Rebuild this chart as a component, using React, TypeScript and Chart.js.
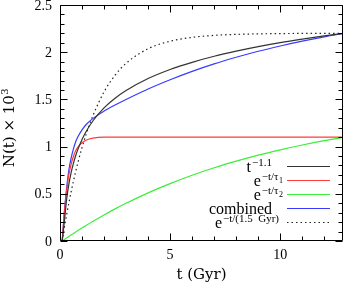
import React, { useEffect, useRef } from "react";
import { Chart, registerables } from "chart.js";

Chart.register(...registerables);

// time samples (Gyr)
const T = [0.1, 0.2, 0.3, 0.4, 0.5, 0.6, 0.7, 0.8, 1.0, 1.2, 1.5, 2, 2.5, 3, 4, 5, 6, 7, 8, 9, 10, 11, 12, 12.9];

// N(t) x 10^3 for each model
const powerLaw = [0, 0.21, 0.44, 0.6, 0.72, 0.815, 0.895, 0.963, 1.076, 1.166, 1.274, 1.41, 1.512, 1.594, 1.721, 1.817, 1.893, 1.957, 2.011, 2.059, 2.101, 2.138, 2.172, 2.2];
const expTau1 = [0, 0.3, 0.53, 0.7, 0.81, 0.89, 0.95, 0.99, 1.04, 1.07, 1.09, 1.1, 1.1, 1.1, 1.1, 1.1, 1.1, 1.1, 1.1, 1.1, 1.1, 1.1, 1.1, 1.1];
const expTau2 = [0, 0.016, 0.032, 0.048, 0.063, 0.078, 0.093, 0.108, 0.138, 0.167, 0.209, 0.276, 0.34, 0.399, 0.51, 0.608, 0.697, 0.776, 0.846, 0.91, 0.966, 1.017, 1.063, 1.1];
const combined = [0, 0.316, 0.562, 0.748, 0.873, 0.968, 1.043, 1.098, 1.178, 1.237, 1.299, 1.376, 1.44, 1.499, 1.61, 1.708, 1.797, 1.876, 1.946, 2.01, 2.066, 2.117, 2.163, 2.2];
const exp15 = [0, 0.143, 0.276, 0.4, 0.516, 0.624, 0.725, 0.819, 0.99, 1.14, 1.33, 1.58, 1.756, 1.882, 2.037, 2.116, 2.157, 2.178, 2.189, 2.194, 2.197, 2.199, 2.2, 2.2];

// axes
const X_MIN = 0;
const X_MAX = 12.85;
const Y_MIN = 0;
const Y_MAX = 2.5;
const X_MAJOR = [0, 5, 10];
const X_LABELS = ["0", "5", "10"];
const X_MINOR = [1, 2, 3, 4, 6, 7, 8, 9, 11, 12];
const Y_MAJOR = [0, 0.5, 1, 1.5, 2, 2.5];
const Y_LABELS = ["0", "0.5", "1", "1.5", "2", "2.5"];
const Y_MINOR = [0.1, 0.2, 0.3, 0.4, 0.6, 0.7, 0.8, 0.9, 1.1, 1.2, 1.3, 1.4, 1.6, 1.7, 1.8, 1.9, 2.1, 2.2, 2.3, 2.4];

// legend labels: base text, superscript, sub-subscript
const LEGEND_BASE = ["t", "e", "e", "combined", "e"];
const LEGEND_SUP = ["\u22121.1", "\u2212t/\u03c4", "\u2212t/\u03c4", "", "\u2212t/(1.5  Gyr)"];
const LEGEND_SUB = ["", "1", "2", "", ""];

const X_TITLE = "t (Gyr)";
const Y_TITLE = "N(t) \u00d7 10";
const Y_TITLE_SUP = "3";

const SERIF = "'Liberation Serif', 'Times New Roman', serif";
const SERIF2 = "'DejaVu Serif', serif";

const framePlugin = {
  id: "framePlugin",
  afterDraw(chart: any) {
    const { ctx, chartArea: a } = chart;
    const xs = chart.scales.x;
    const ys = chart.scales.y;
    ctx.save();
    ctx.strokeStyle = "#000";
    ctx.lineWidth = 1;
    const L = Math.round(a.left) + 0.5;
    const R = Math.round(a.right) - 0.5;
    const TP = Math.round(a.top) + 0.5;
    const B = Math.round(a.bottom) - 0.5;
    ctx.beginPath();
    ctx.rect(L, TP, R - L, B - TP);
    ctx.stroke();

    const MAJ = 7;
    const MIN = 4;
    ctx.beginPath();
    const xt = (v: number, len: number) => {
      const px = Math.round(xs.getPixelForValue(v)) + 0.5;
      ctx.moveTo(px, B);
      ctx.lineTo(px, B - len);
      ctx.moveTo(px, TP);
      ctx.lineTo(px, TP + len);
    };
    const yt = (v: number, len: number) => {
      const py = Math.round(ys.getPixelForValue(v)) + 0.5;
      ctx.moveTo(L, py);
      ctx.lineTo(L + len, py);
      ctx.moveTo(R, py);
      ctx.lineTo(R - len, py);
    };
    X_MAJOR.forEach((v) => xt(v, MAJ));
    X_MINOR.forEach((v) => xt(v, MIN));
    Y_MAJOR.forEach((v) => yt(v, MAJ));
    Y_MINOR.forEach((v) => yt(v, MIN));
    ctx.stroke();

    // tick labels
    ctx.fillStyle = "#000";
    ctx.font = `14px ${SERIF}`;
    ctx.textAlign = "right";
    ctx.textBaseline = "middle";
    Y_MAJOR.forEach((v, i) => {
      ctx.fillText(Y_LABELS[i], a.left - 8, ys.getPixelForValue(v) + 1);
    });
    ctx.textAlign = "center";
    ctx.textBaseline = "top";
    X_MAJOR.forEach((v, i) => {
      ctx.fillText(X_LABELS[i], xs.getPixelForValue(v), a.bottom + 7);
    });

    // axis titles
    ctx.font = `15px ${SERIF2}`;
    ctx.textBaseline = "alphabetic";
    ctx.textAlign = "center";
    ctx.fillText(X_TITLE, (a.left + a.right) / 2, 279);

    ctx.save();
    ctx.translate(14, 128);
    ctx.rotate(-Math.PI / 2);
    ctx.font = `15px ${SERIF2}`;
    const w1 = ctx.measureText(Y_TITLE).width;
    ctx.font = `10px ${SERIF2}`;
    const w2 = ctx.measureText(Y_TITLE_SUP).width;
    const start = -(w1 + w2) / 2;
    ctx.textAlign = "left";
    ctx.font = `15px ${SERIF2}`;
    ctx.fillText(Y_TITLE, start, 0);
    ctx.font = `10px ${SERIF2}`;
    ctx.fillText(Y_TITLE_SUP, start + w1 + 0.5, -6);
    ctx.restore();

    // legend
    const rightEdges = [272, 283, 283, 272, 279];
    const y0 = 165.5;
    const dy = 14.2;
    chart.data.datasets.forEach((ds: any, i: number) => {
      const ly = Math.round(y0 + i * dy) + 0.5;
      ctx.save();
      ctx.strokeStyle = ds.borderColor;
      ctx.lineWidth = ds.borderWidth;
      ctx.setLineDash(ds.borderDash || []);
      ctx.beginPath();
      ctx.moveTo(287, ly);
      ctx.lineTo(330, ly);
      ctx.stroke();
      ctx.restore();

      const base = LEGEND_BASE[i];
      const sup = LEGEND_SUP[i];
      const sub = LEGEND_SUB[i];
      ctx.font = `16px ${SERIF}`;
      const wb = ctx.measureText(base).width;
      ctx.font = `11px ${SERIF}`;
      const ws = sup ? ctx.measureText(sup).width : 0;
      ctx.font = `8px ${SERIF}`;
      const wsub = sub ? ctx.measureText(sub).width : 0;
      const total = wb + (sup ? ws + 1 : 0) + (sub ? wsub + 0.5 : 0);
      let x = rightEdges[i] - total;
      const by = ly + 5.5;
      ctx.textAlign = "left";
      ctx.textBaseline = "alphabetic";
      ctx.fillStyle = "#000";
      ctx.font = `16px ${SERIF}`;
      ctx.fillText(base, x, by);
      x += wb + 1;
      if (sup) {
        ctx.font = `11px ${SERIF}`;
        ctx.fillText(sup, x, by - 6);
        x += ws + 0.5;
      }
      if (sub) {
        ctx.font = `8px ${SERIF}`;
        ctx.fillText(sub, x, by - 3.5);
      }
    });
    ctx.restore();
  },
};

function pts(vals: number[]) {
  return T.map((t, i) => ({ x: t, y: vals[i] }));
}

export default function App() {
  const ref = useRef<HTMLCanvasElement | null>(null);
  useEffect(() => {
    if (!ref.current) return;
    const common = {
      pointRadius: 0,
      borderWidth: 1.2,
      fill: false,
      cubicInterpolationMode: "monotone" as const,
    };
    const chart = new Chart(ref.current, {
      type: "line",
      data: {
        datasets: [
          { ...common, label: "t^-1.1", data: pts(powerLaw), borderColor: "#333333" },
          { ...common, label: "e^-t/tau1", data: pts(expTau1), borderColor: "#ff3a3a" },
          { ...common, label: "e^-t/tau2", data: pts(expTau2), borderColor: "#3aee3a" },
          { ...common, label: "combined", data: pts(combined), borderColor: "#3a3aff" },
          { ...common, label: "e^-t/(1.5 Gyr)", data: pts(exp15), borderColor: "#222222", borderDash: [1.5, 3] },
        ],
      },
      options: {
        responsive: false,
        animation: false,
        events: [],
        layout: { padding: { left: 60, right: 3, top: 5, bottom: 52 } },
        plugins: { legend: { display: false }, tooltip: { enabled: false } },
        scales: {
          x: { type: "linear", min: X_MIN, max: X_MAX, display: false },
          y: { type: "linear", min: Y_MIN, max: Y_MAX, display: false },
        },
      },
      plugins: [framePlugin],
    });
    return () => chart.destroy();
  }, []);
  return (
    <div style={{ position: "fixed", left: 0, top: 0, width: 346, height: 293, background: "#fff" }}>
      <canvas ref={ref} width={346} height={293} style={{ display: "block" }} />
    </div>
  );
}
